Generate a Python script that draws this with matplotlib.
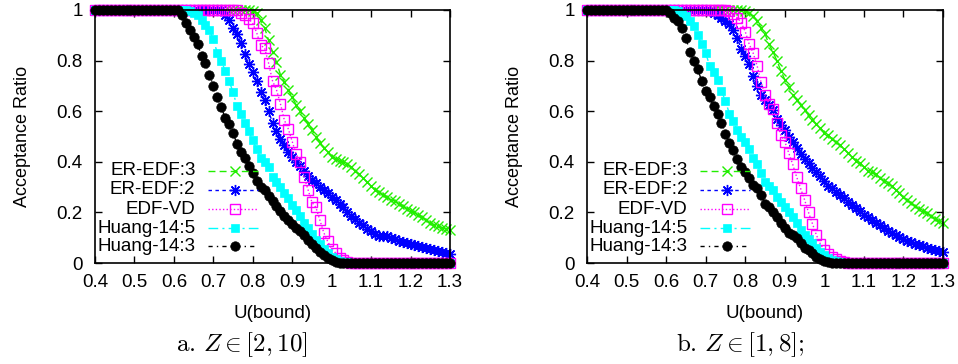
import numpy as np
import matplotlib
matplotlib.use("Agg")
import matplotlib.pyplot as plt
from matplotlib.ticker import FormatStrFormatter

plt.rcParams['font.family'] = ['Liberation Sans', 'DejaVu Sans']
plt.rcParams['mathtext.fontset'] = 'cm'

# U(bound) grid, 0.40 .. 1.30 step 0.01
u = np.linspace(0.4, 1.3, 91)

# panel a: Z in [2, 10]
er3_a = [1.0] * 40 + [
    .995, .988, .96, .93, .88, .835, .795, .745, .715, .685,
    .655, .625, .60, .575, .55, .525, .50, .475, .455, .44,
    .42, .41, .405, .40, .39, .38, .365, .35, .335, .32,
    .305, .29, .28, .27, .26, .25, .245, .235, .225, .215,
    .205, .20, .19, .18, .17, .16, .15, .145, .14, .135,
    .13]
er2_a = [1.0] * 33 + [
    .98, .96, .93, .905, .87, .825, .785,
    .755, .72, .675, .645, .60, .555, .52, .49, .465, .44,
    .42, .40, .385, .365, .345, .33, .315, .30, .29, .275,
    .26, .25, .235, .22, .20, .185, .175, .16, .15, .135,
    .125, .115, .105, .105, .105, .10, .095, .085, .082, .078,
    .075, .07, .066, .062, .058, .054, .05, .046, .043, .04,
    .037]
edfvd_a = [1.0] * 37 + [
    .99, .98, .965,
    .947, .91, .86, .85, .79, .72, .685, .63, .565, .53,
    .48, .43, .40, .34, .29, .24, .22, .17, .12, .085,
    .055, .04, .02, .01, .005] + [0.0] * 26
h5_a = [1.0] * 24 + [
    .995, .99, .98, .96, .94, .92,
    .885, .83, .80, .76, .72, .675, .62, .59, .555, .52,
    .485, .45, .415, .40, .38, .34, .32, .30, .275, .255,
    .23, .21, .185, .16, .14, .115, .09, .075, .055, .04,
    .025, .015, .008, .004, .002] + [0.0] * 26
h3_a = [1.0] * 22 + [
    .98, .95, .92, .895, .865, .82, .79, .745,
    .70, .655, .615, .575, .55, .515, .47, .44, .415, .385,
    .355, .325, .30, .29, .265, .245, .225, .205, .185, .17,
    .155, .14, .125, .11, .09, .075, .06, .045, .032, .02,
    .01, .004] + [0.0] * 29

# panel b: Z in [1, 8]
er3_b = [1.0] * 40 + [
    .995, .988, .978, .955, .93, .905, .865, .835, .80, .76,
    .725, .695, .665, .645, .625, .605, .585, .565, .55, .535,
    .515, .505, .49, .48, .465, .45, .435, .42, .405, .395,
    .38, .365, .358, .35, .337, .325, .315, .305, .29, .278,
    .26, .248, .236, .225, .213, .205, .197, .185, .175, .165,
    .157]
er2_b = [1.0] * 31 + [
    .995, .99, .98, .97, .955, .945, .92, .89, .845,
    .82, .785, .74, .70, .665, .645, .625, .605, .57, .545,
    .525, .50, .48, .455, .43, .41, .395, .375, .36, .345,
    .325, .305, .295, .282, .27, .255, .243, .23, .218, .205,
    .19, .18, .168, .158, .15, .138, .127, .12, .112, .104,
    .095, .088, .082, .076, .071, .066, .061, .057, .052, .046,
    .042]
edfvd_b = [1.0] * 36 + [
    .995, .985, .97, .95,
    .915, .865, .83, .78, .715, .665, .63, .61, .555, .505,
    .48, .435, .39, .34, .295, .25, .20, .155, .11, .075,
    .05, .035, .025, .015, .008, .003] + [0.0] * 25
h5_b = [1.0] * 23 + [
    .995, .985, .975, .955, .935, .90, .865,
    .83, .78, .755, .725, .68, .64, .59, .56, .525, .50,
    .48, .45, .415, .39, .355, .32, .305, .29, .26, .24,
    .22, .20, .18, .16, .13, .11, .095, .08, .06, .045,
    .033, .02, .012, .007, .003] + [0.0] * 26
h3_b = [1.0] * 21 + [
    .99, .97, .955, .93, .89, .835, .80, .765, .72,
    .68, .655, .62, .59, .555, .51, .475, .445, .41, .38,
    .36, .335, .31, .295, .27, .235, .22, .20, .18, .16,
    .14, .12, .11, .10, .08, .06, .05, .038, .025, .015,
    .007, .003] + [0.0] * 29

labels = ['ER-EDF:3', 'ER-EDF:2', 'EDF-VD', 'Huang-14:5', 'Huang-14:3']

# gnuplot-like styles
styles = [
    dict(color='#22ee00', ls=(0, (5, 3)), marker='x', ms=7, mew=1.0, mfc='none'),
    dict(color='#0000ff', ls=(0, (2.5, 2.5)), marker=(8, 2, 0), ms=8, mew=1.0, mfc='none'),
    dict(color='#ff00ff', ls=(0, (1, 1.6)), marker='s', ms=7, mew=1.0, mfc='none'),
    dict(color='#00ffff', ls=(0, (7, 3, 1.5, 3)), marker='s', ms=6.3, mew=0.5, mfc='#00ffff'),
    dict(color='#000000', ls=(0, (3, 3, 1, 3)), marker='o', ms=6.8, mew=0.5, mfc='#000000'),
]

fig = plt.figure(figsize=(9.58, 3.64), dpi=100)
ax_a = fig.add_axes([95 / 958, 1 - 263 / 364, 355 / 958, 253 / 364])
ax_b = fig.add_axes([587 / 958, 1 - 263 / 364, 356 / 958, 253 / 364])

panels = [(ax_a, [er3_a, er2_a, edfvd_a, h5_a, h3_a]),
          (ax_b, [er3_b, er2_b, edfvd_b, h5_b, h3_b])]

for ax, series in panels:
    for vals, st in zip(series, styles):
        ax.plot(u, vals, lw=1.0, clip_on=False, zorder=3, **st)

    ax.set_xlim(0.4, 1.3)
    ax.set_ylim(0, 1)
    ax.set_xticks(np.arange(0.4, 1.31, 0.1))
    ax.set_yticks([0, 0.2, 0.4, 0.6, 0.8, 1.0])
    ax.xaxis.set_major_formatter(FormatStrFormatter('%g'))
    ax.yaxis.set_major_formatter(FormatStrFormatter('%g'))
    ax.tick_params(direction='in', length=5, width=1, top=True, right=True,
                   labelsize=13.5)
    ax.tick_params(axis='x', pad=8)
    ax.tick_params(axis='y', pad=9)
    for sp in ax.spines.values():
        sp.set_linewidth(1.2)
        sp.set_zorder(5)
    ax.set_xlabel('U(bound)', fontsize=13.5, labelpad=10)
    ax.set_ylabel('Acceptance Ratio', fontsize=13, labelpad=18)

    # legend drawn gnuplot-style: text right aligned, sample to its right
    rows = [0.364, 0.289, 0.213, 0.138, 0.067]
    for lab, st, yy in zip(labels, styles, rows):
        ax.text(0.283, yy, lab, transform=ax.transAxes, ha='right',
                va='center', fontsize=13.5, zorder=6)
        ax.plot([0.318, 0.394, 0.459], [yy, yy, yy], transform=ax.transAxes,
                lw=1.0, markevery=[1], clip_on=False, zorder=6, **st)

fig.text(242 / 958, 1 - 345 / 364, r'$\mathrm{a.}\,Z \in [2, 10]$',
         ha='center', va='center', fontsize=18)
fig.text(740 / 958, 1 - 345 / 364, r'$\mathrm{b.}\,Z \in [1, 8];$',
         ha='center', va='center', fontsize=18)

fig.savefig('out.png', dpi=100)
